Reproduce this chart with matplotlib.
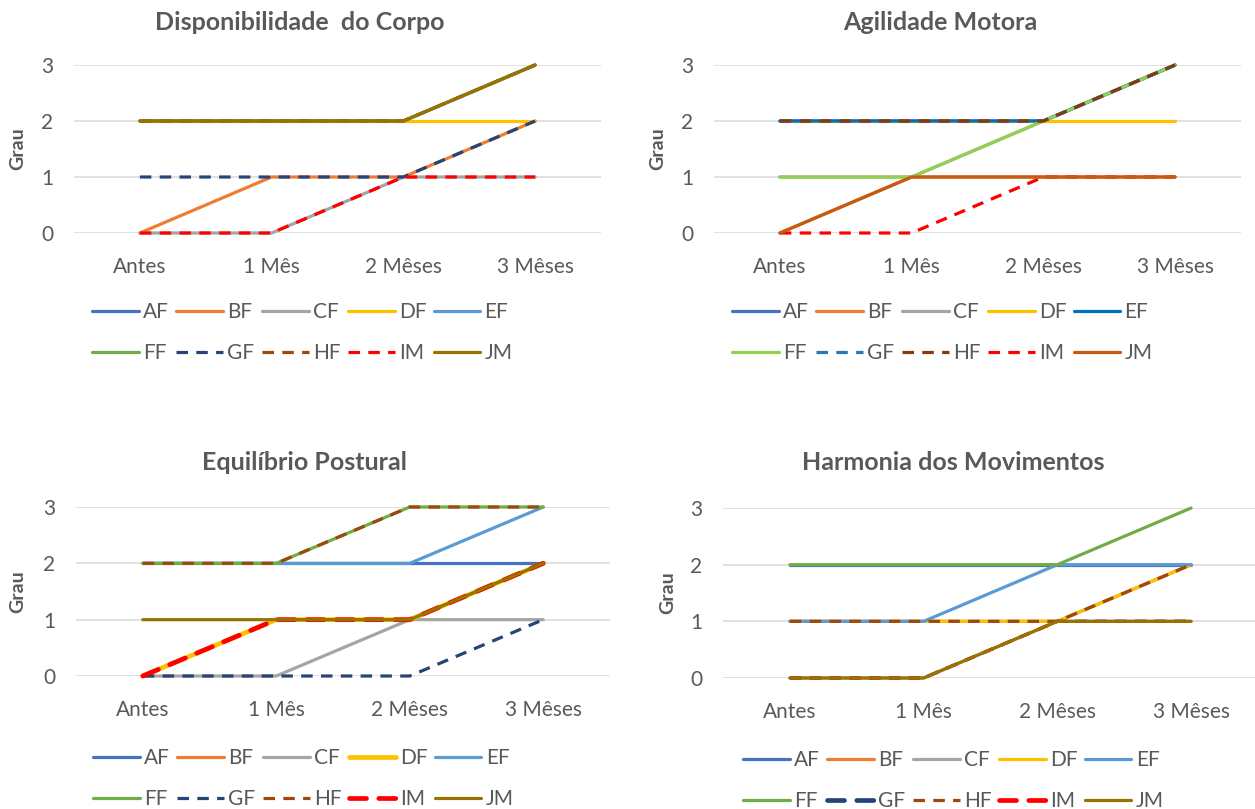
import matplotlib
matplotlib.use("Agg")
import matplotlib.pyplot as plt
from matplotlib.lines import Line2D

plt.rcParams['font.family'] = ['Lato', 'DejaVu Sans']

# ---------------- data ----------------
categories = ["Antes", "1 Mês", "2 Mêses", "3 Mêses"]
series_names = ["AF", "BF", "CF", "DF", "EF", "FF", "GF", "HF", "IM", "JM"]
grau_ticks = [0, 1, 2, 3]

titles = ["Disponibilidade  do Corpo", "Agilidade Motora",
          "Equilíbrio Postural", "Harmonia dos Movimentos"]

disponibilidade = {
    "AF": [2, 2, 2, 3], "BF": [0, 1, 1, 2], "CF": [0, 0, 1, 1],
    "DF": [2, 2, 2, 2], "EF": [2, 2, 2, 3], "FF": [2, 2, 2, 3],
    "GF": [1, 1, 1, 2], "HF": [2, 2, 2, 3], "IM": [0, 0, 1, 1],
    "JM": [2, 2, 2, 3],
}
agilidade = {
    "AF": [2, 2, 2, 3], "BF": [0, 1, 1, 1], "CF": [1, 1, 2, 3],
    "DF": [2, 2, 2, 2], "EF": [2, 2, 2, 3], "FF": [1, 1, 2, 3],
    "GF": [2, 2, 2, 3], "HF": [2, 2, 2, 3], "IM": [0, 0, 1, 1],
    "JM": [0, 1, 1, 1],
}
equilibrio = {
    "AF": [2, 2, 2, 2], "BF": [0, 1, 1, 2], "CF": [0, 0, 1, 1],
    "DF": [0, 1, 1, 2], "EF": [2, 2, 2, 3], "FF": [2, 2, 3, 3],
    "GF": [0, 0, 0, 1], "HF": [2, 2, 3, 3], "IM": [0, 1, 1, 2],
    "JM": [1, 1, 1, 2],
}
harmonia = {
    "AF": [2, 2, 2, 2], "BF": [1, 1, 1, 2], "CF": [0, 0, 1, 1],
    "DF": [1, 1, 1, 2], "EF": [1, 1, 2, 2], "FF": [2, 2, 2, 3],
    "GF": [0, 0, 1, 1], "HF": [1, 1, 1, 2], "IM": [0, 0, 1, 1],
    "JM": [0, 0, 1, 1],
}

# ---------------- styles ----------------
colors_std = {"AF": "#4472C4", "BF": "#ED7D31", "CF": "#A5A5A5", "DF": "#FFC000",
              "EF": "#5B9BD5", "FF": "#70AD47", "GF": "#264478", "HF": "#9E480E",
              "IM": "#FF0000", "JM": "#997300"}
colors_agil = dict(colors_std, EF="#0070C0", FF="#92D050", GF="#2E75B6",
                   HF="#843C0C", JM="#C55A11")
dashed = {"GF", "HF", "IM"}
TXT = "#595959"
W, H = 1255, 809

fig = plt.figure(figsize=(W / 100, H / 100), dpi=100)
fig.patch.set_facecolor("white")


def px_axes(left, right, top, bottom):
    return fig.add_axes([left / W, 1 - bottom / H, (right - left) / W, (bottom - top) / H])


panels = [
    # data, colors, axes box (l, r, t, b), title(x,y), ylabel x, legend (x, y),
    # thick lines in plot, thick lines in legend
    (disponibilidade, colors_std, (74, 601, 65, 233), (300, 22), 18, (92, 302), set(), set()),
    (agilidade, colors_agil, (714, 1241, 65, 233), (940, 22), 658, (732, 302), set(), set()),
    (equilibrio, colors_std, (76, 610, 507, 676), (305, 463), 18, (93, 748), {"DF", "IM"}, {"DF", "IM"}),
    (harmonia, colors_std, (723, 1258, 508, 678), (953, 463), 668, (743, 750), set(), {"GF", "IM"}),
]

# legend is filled column-wise by matplotlib: reorder so rows read AF..EF / FF..JM
ncol = 5
legend_order = [series_names[r * ncol + c] for c in range(ncol) for r in range(2)]

x = list(range(len(categories)))
for (data, cols, box, tpos, ylx, lpos, thick, lthick), title in zip(panels, titles):
    ax = px_axes(*box)
    handles = {}
    for name in series_names:
        def style(is_thick):
            kw = dict(color=cols[name], lw=3.4 if is_thick else 2.3,
                      solid_capstyle="round", dash_capstyle="butt")
            if name in dashed:
                kw["dashes"] = (3.6, 2.6)
                if is_thick:
                    kw["dash_capstyle"] = "round"
            return kw
        ax.plot(x, data[name], clip_on=False, **style(name in thick))
        handles[name] = Line2D([], [], **style(name in lthick))
    ax.set_xlim(-0.5, 3.5)
    ax.set_ylim(0, 3)
    ax.set_yticks(grau_ticks)
    ax.set_xticks(x)
    ax.set_xticklabels(categories)
    for s in ax.spines.values():
        s.set_visible(False)
    ax.grid(axis="y", color="#D9D9D9", lw=1.1)
    ax.set_axisbelow(True)
    ax.tick_params(axis="both", length=0, labelsize=15, labelcolor=TXT)
    ax.tick_params(axis="y", pad=15)
    ax.tick_params(axis="x", pad=17)
    fig.text(tpos[0] / W, 1 - tpos[1] / H, title, ha="center", va="center",
             fontsize=18, fontweight="bold", color=TXT)
    fig.text(ylx / W, 1 - (box[2] + box[3]) / 2 / H, "Grau", rotation=90,
             ha="center", va="center", fontsize=14, fontweight="bold", color=TXT)
    fig.legend([handles[n] for n in legend_order], legend_order, ncol=ncol,
               loc="upper left", bbox_to_anchor=(lpos[0] / W, 1 - lpos[1] / H),
               frameon=False, fontsize=15, labelcolor=TXT,
               handlelength=2.25, handletextpad=0.2, columnspacing=0.35,
               labelspacing=1.0, borderpad=0, borderaxespad=0)

fig.savefig("out.png", dpi=100, facecolor="white")
